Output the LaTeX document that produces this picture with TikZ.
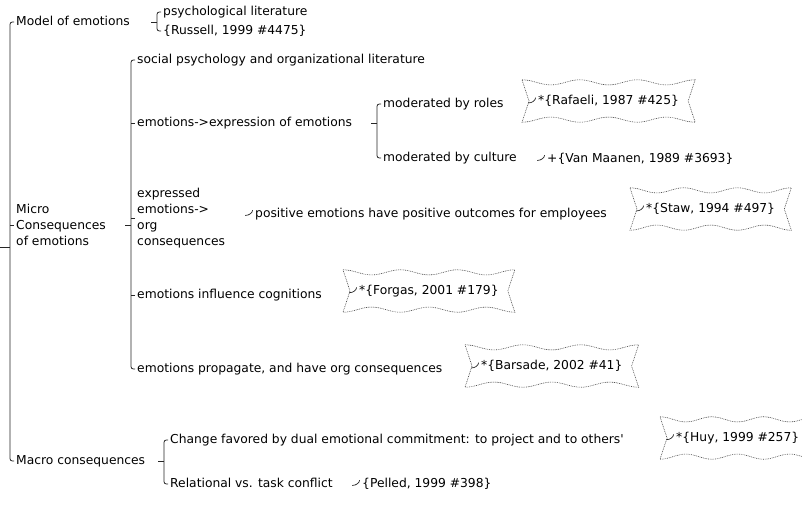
\documentclass[tikz,border=0pt]{standalone}
\usepackage{fontspec}
\setmainfont{DejaVu Sans}
\usetikzlibrary{calc}

\newcommand{\wavebox}[1]{%
  \draw[wave] let \p1=(#1.north west), \p2=(#1.south east),
    \n1={(\x2-\x1)/12}, \n2={(\y1-\y2)/2} in
    (\p1) cos ++(\n1,-2.2pt) sin ++(\n1,-2.2pt) cos ++(\n1,2.2pt) sin ++(\n1,2.2pt)
    cos ++(\n1,-2.2pt) sin ++(\n1,-2.2pt) cos ++(\n1,2.2pt) sin ++(\n1,2.2pt)
    cos ++(\n1,-2.2pt) sin ++(\n1,-2.2pt) cos ++(\n1,2.2pt) sin ++(\n1,2.2pt)
    -- ++(-6pt,-\n2) -- (\x2,\y2)
    cos ++(-\n1,2.2pt) sin ++(-\n1,2.2pt) cos ++(-\n1,-2.2pt) sin ++(-\n1,-2.2pt)
    cos ++(-\n1,2.2pt) sin ++(-\n1,2.2pt) cos ++(-\n1,-2.2pt) sin ++(-\n1,-2.2pt)
    cos ++(-\n1,2.2pt) sin ++(-\n1,2.2pt) cos ++(-\n1,-2.2pt) sin ++(-\n1,-2.2pt)
    -- ++(6pt,\n2) -- cycle;}

\begin{document}
\begin{tikzpicture}[font=\fontsize{10.5}{13.7}\selectfont,
  item/.style={anchor=west, inner xsep=0.06cm, inner ysep=1pt, text height=0.75em, text depth=0.22em},
  multi/.style={anchor=west, inner xsep=0.06cm, align=left},
  cite/.style={anchor=west, inner xsep=0.48cm, minimum height=1.26cm},
  link/.style={draw=black!85, line width=0.7pt},
  wave/.style={draw=black!75, line width=0.5pt, dash pattern=on 0.7pt off 0.8pt}]

 \useasboundingbox (0,0) rectangle (24.06,-15.21);

 \coordinate (root) at (0,-7.41);

 \node[item] (model) at (0.42,-0.66) {Model of emotions};
 \node[multi] (micro) at (0.42,-6.75) {Micro\\Consequences\\of emotions};
 \node[item] (macro) at (0.42,-13.83) {Macro consequences};

 \node[item] (psy) at (4.83,-0.36) {psychological literature};
 \node[item] (russell) at (4.83,-0.93) {\{Russell, 1999 \#4475\}};

 \node[item] (social) at (4.05,-1.8) {social psychology and organizational literature};
 \node[item] (expr) at (4.05,-3.69) {emotions->expression of emotions};
 \node[multi] (orgc) at (4.05,-6.54) {expressed\\emotions->\\org\\consequences};
 \node[item] (cogn) at (4.05,-8.85) {emotions influence cognitions};
 \node[item] (prop) at (4.05,-11.07) {emotions propagate, and have org consequences};

 \node[item] (roles) at (11.43,-3.12) {moderated by roles};
 \node[item] (culture) at (11.43,-4.74) {moderated by culture};
 \node[cite] (rafaeli) at (15.66,-3.03) {*\{Rafaeli, 1987 \#425\}};
 \node[item] (vanm) at (16.35,-4.77) {+\{Van Maanen, 1989 \#3693\}};

 \node[item] (posit) at (7.59,-6.42) {positive emotions have positive outcomes for employees};
 \node[cite] (staw) at (18.9,-6.27) {*\{Staw, 1994 \#497\}};
 \node[cite] (forgas) at (10.29,-8.73) {*\{Forgas, 2001 \#179\}};
 \node[cite] (barsade) at (13.95,-10.98) {*\{Barsade, 2002 \#41\}};

 \node[item] (change) at (5.04,-13.2) {Change favored by dual emotional commitment: to project and to others\textquotesingle};
 \node[item] (relat) at (5.04,-14.52) {Relational vs. task conflict};
 \node[cite] (huy) at (19.8,-13.14) {*\{Huy, 1999 \#257\}};
 \node[item] (pelled) at (10.8,-14.52) {\{Pelled, 1999 \#398\}};

 \draw[link] (root) -- ++(0.3,0);
 \draw[link, rounded corners=2pt] (model.west) -- ++(-0.12,0) |- (macro.west);
 \draw[link] (micro.west) -- ++(-0.12,0);

 \draw[link] (model -| psy.west) ++(-0.12,0) -- ++(-0.18,0);
 \draw[link, rounded corners=2pt] (psy.west) -- ++(-0.12,0) |- (russell.west);

 \draw[link] (micro -| social.west) ++(-0.12,0) -- ++(-0.18,0);
 \draw[link, rounded corners=2pt] (social.west) -- ++(-0.12,0) |- (prop.west);
 \foreach \c in {expr,orgc,cogn}
   \draw[link] (\c.west) -- ++(-0.12,0);

 \draw[link] (expr -| roles.west) ++(-0.12,0) -- ++(-0.18,0);
 \draw[link, rounded corners=2pt] (roles.west) -- ++(-0.12,0) |- (culture.west);

 \draw[link] (macro -| change.west) ++(-0.12,0) -- ++(-0.18,0);
 \draw[link, rounded corners=2pt] (change.west) -- ++(-0.12,0) |- (relat.west);

 \foreach \c in {rafaeli,vanm,posit,staw,forgas,barsade,huy,pelled}
   \draw[link, line width=0.6pt] (\c.text) ++(-0.3,0.05) .. controls +(0.12,0) and +(0,-0.08) .. ++(0.22,0.16);

 \foreach \c in {rafaeli,staw,forgas,barsade,huy}
   \wavebox{\c};

\end{tikzpicture}
\end{document}
